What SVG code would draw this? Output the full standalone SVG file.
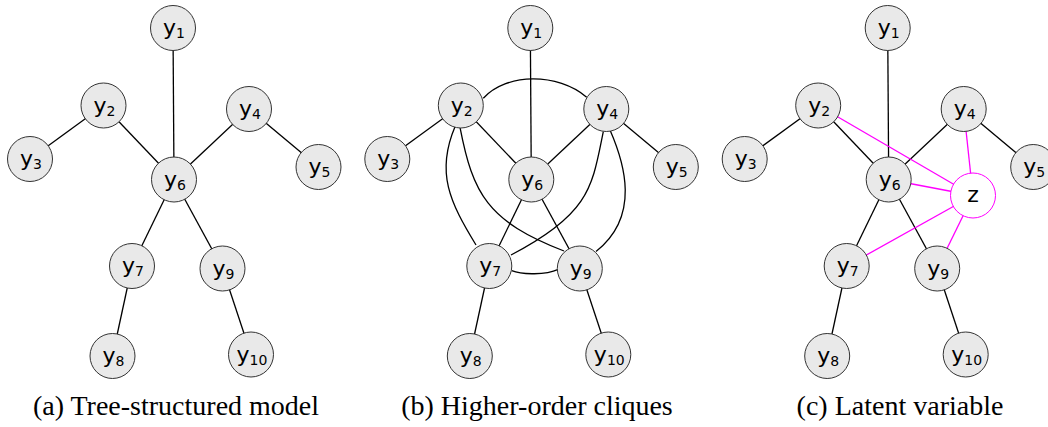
<svg xmlns="http://www.w3.org/2000/svg" width="1048" height="427" viewBox="0 0 1048 427">
  <style>
    .edge { stroke: #000; stroke-width: 1.3; fill: none; }
    .latent-edge { stroke: #ff00ff; stroke-width: 1.3; fill: none; }
    .node circle { fill: #e9e9e9; stroke: #333; stroke-width: 1; }
    .node.latent circle { fill: #fff; stroke: #ff00ff; }
    .lbl { font-family: "DejaVu Sans", sans-serif; font-size: 22px; fill: #000; text-anchor: middle; }
    .sub { font-size: 14px; }
    .caption { font-family: "Liberation Serif", "Times New Roman", serif; font-size: 28px; fill: #000; text-anchor: middle; }
  </style>

  <!-- connectors -->
  <g id="connectors">
    <!-- (a) tree -->
    <line class="edge" x1="173" y1="28" x2="174" y2="179.5"/>
    <line class="edge" x1="103.5" y1="105.5" x2="30" y2="159"/>
    <line class="edge" x1="103.5" y1="105.5" x2="174" y2="179.5"/>
    <line class="edge" x1="249" y1="109" x2="318.5" y2="167"/>
    <line class="edge" x1="249" y1="109" x2="174" y2="179.5"/>
    <line class="edge" x1="174" y1="179.5" x2="132" y2="266"/>
    <line class="edge" x1="174" y1="179.5" x2="222.5" y2="268.5"/>
    <line class="edge" x1="132" y1="266" x2="112.5" y2="356"/>
    <line class="edge" x1="222.5" y1="268.5" x2="251" y2="354.5"/>

    <!-- (b) tree edges -->
    <line class="edge" x1="530.3" y1="28" x2="531.3" y2="179.5"/>
    <line class="edge" x1="460.8" y1="105.5" x2="387.3" y2="159"/>
    <line class="edge" x1="460.8" y1="105.5" x2="531.3" y2="179.5"/>
    <line class="edge" x1="606.3" y1="109" x2="675.8" y2="167"/>
    <line class="edge" x1="606.3" y1="109" x2="531.3" y2="179.5"/>
    <line class="edge" x1="531.3" y1="179.5" x2="489.3" y2="266"/>
    <line class="edge" x1="531.3" y1="179.5" x2="579.8" y2="268.5"/>
    <line class="edge" x1="489.3" y1="266" x2="469.8" y2="356"/>
    <line class="edge" x1="579.8" y1="268.5" x2="608.3" y2="354.5"/>
    <!-- (b) clique arcs -->
    <path class="edge" d="M483.3,98.3 C506,72.7 558,72.7 586.7,97.3"/>
    <path class="edge" d="M455,126.7 C435.5,172.7 450,202.5 476,245"/>
    <path class="edge" d="M460,127.3 C472.9,193.7 487.2,221.3 564,251"/>
    <path class="edge" d="M610,130 C624.3,162.8 641,216 596,251.5"/>
    <path class="edge" d="M603.3,131.7 C592.3,185.5 590.9,213.7 511,255"/>
    <path class="edge" d="M511.7,270.7 C522,275 546,275 558.3,269.3"/>

    <!-- (c) tree edges -->
    <line class="edge" x1="887.7" y1="28" x2="888.7" y2="179.5"/>
    <line class="edge" x1="818.2" y1="105.5" x2="744.7" y2="159"/>
    <line class="edge" x1="818.2" y1="105.5" x2="888.7" y2="179.5"/>
    <line class="edge" x1="963.7" y1="109" x2="1033.2" y2="167"/>
    <line class="edge" x1="963.7" y1="109" x2="888.7" y2="179.5"/>
    <line class="edge" x1="888.7" y1="179.5" x2="846.7" y2="266"/>
    <line class="edge" x1="888.7" y1="179.5" x2="937.2" y2="268.5"/>
    <line class="edge" x1="846.7" y1="266" x2="827.2" y2="356"/>
    <line class="edge" x1="937.2" y1="268.5" x2="965.7" y2="354.5"/>
    <!-- (c) latent variable links -->
    <line class="latent-edge" x1="973" y1="195.5" x2="818.2" y2="105.5"/>
    <line class="latent-edge" x1="973" y1="195.5" x2="963.7" y2="109"/>
    <line class="latent-edge" x1="973" y1="195.5" x2="888.7" y2="179.5"/>
    <line class="latent-edge" x1="973" y1="195.5" x2="846.7" y2="266"/>
    <line class="latent-edge" x1="973" y1="195.5" x2="937.2" y2="268.5"/>
  </g>

  <!-- (a) nodes -->
  <g id="a-y1" class="node"><circle cx="173" cy="28" r="22.5"/><text class="lbl" x="174" y="35">y<tspan class="sub" dy="3">1</tspan></text></g>
  <g id="a-y2" class="node"><circle cx="103.5" cy="105.5" r="22.5"/><text class="lbl" x="104.5" y="112.5">y<tspan class="sub" dy="3">2</tspan></text></g>
  <g id="a-y3" class="node"><circle cx="30" cy="159" r="22.5"/><text class="lbl" x="31" y="166">y<tspan class="sub" dy="3">3</tspan></text></g>
  <g id="a-y4" class="node"><circle cx="249" cy="109" r="22.5"/><text class="lbl" x="250" y="116">y<tspan class="sub" dy="3">4</tspan></text></g>
  <g id="a-y5" class="node"><circle cx="318.5" cy="167" r="22.5"/><text class="lbl" x="319.5" y="174">y<tspan class="sub" dy="3">5</tspan></text></g>
  <g id="a-y6" class="node"><circle cx="174" cy="179.5" r="22.5"/><text class="lbl" x="175" y="186.5">y<tspan class="sub" dy="3">6</tspan></text></g>
  <g id="a-y7" class="node"><circle cx="132" cy="266" r="22.5"/><text class="lbl" x="133" y="273">y<tspan class="sub" dy="3">7</tspan></text></g>
  <g id="a-y8" class="node"><circle cx="112.5" cy="356" r="22.5"/><text class="lbl" x="113.5" y="363">y<tspan class="sub" dy="3">8</tspan></text></g>
  <g id="a-y9" class="node"><circle cx="222.5" cy="268.5" r="22.5"/><text class="lbl" x="223.5" y="275.5">y<tspan class="sub" dy="3">9</tspan></text></g>
  <g id="a-y10" class="node"><circle cx="251" cy="354.5" r="22.5"/><text class="lbl" x="252" y="361.5">y<tspan class="sub" dy="3">10</tspan></text></g>

  <!-- (b) nodes -->
  <g id="b-y1" class="node"><circle cx="530.3" cy="28" r="22.5"/><text class="lbl" x="531.3" y="35">y<tspan class="sub" dy="3">1</tspan></text></g>
  <g id="b-y2" class="node"><circle cx="460.8" cy="105.5" r="22.5"/><text class="lbl" x="461.8" y="112.5">y<tspan class="sub" dy="3">2</tspan></text></g>
  <g id="b-y3" class="node"><circle cx="387.3" cy="159" r="22.5"/><text class="lbl" x="388.3" y="166">y<tspan class="sub" dy="3">3</tspan></text></g>
  <g id="b-y4" class="node"><circle cx="606.3" cy="109" r="22.5"/><text class="lbl" x="607.3" y="116">y<tspan class="sub" dy="3">4</tspan></text></g>
  <g id="b-y5" class="node"><circle cx="675.8" cy="167" r="22.5"/><text class="lbl" x="676.8" y="174">y<tspan class="sub" dy="3">5</tspan></text></g>
  <g id="b-y6" class="node"><circle cx="531.3" cy="179.5" r="22.5"/><text class="lbl" x="532.3" y="186.5">y<tspan class="sub" dy="3">6</tspan></text></g>
  <g id="b-y7" class="node"><circle cx="489.3" cy="266" r="22.5"/><text class="lbl" x="490.3" y="273">y<tspan class="sub" dy="3">7</tspan></text></g>
  <g id="b-y8" class="node"><circle cx="469.8" cy="356" r="22.5"/><text class="lbl" x="470.8" y="363">y<tspan class="sub" dy="3">8</tspan></text></g>
  <g id="b-y9" class="node"><circle cx="579.8" cy="268.5" r="22.5"/><text class="lbl" x="580.8" y="275.5">y<tspan class="sub" dy="3">9</tspan></text></g>
  <g id="b-y10" class="node"><circle cx="608.3" cy="354.5" r="22.5"/><text class="lbl" x="609.3" y="361.5">y<tspan class="sub" dy="3">10</tspan></text></g>

  <!-- (c) nodes -->
  <g id="c-y1" class="node"><circle cx="887.7" cy="28" r="22.5"/><text class="lbl" x="888.7" y="35">y<tspan class="sub" dy="3">1</tspan></text></g>
  <g id="c-y2" class="node"><circle cx="818.2" cy="105.5" r="22.5"/><text class="lbl" x="819.2" y="112.5">y<tspan class="sub" dy="3">2</tspan></text></g>
  <g id="c-y3" class="node"><circle cx="744.7" cy="159" r="22.5"/><text class="lbl" x="745.7" y="166">y<tspan class="sub" dy="3">3</tspan></text></g>
  <g id="c-y4" class="node"><circle cx="963.7" cy="109" r="22.5"/><text class="lbl" x="964.7" y="116">y<tspan class="sub" dy="3">4</tspan></text></g>
  <g id="c-y5" class="node"><circle cx="1033.2" cy="167" r="22.5"/><text class="lbl" x="1034.2" y="174">y<tspan class="sub" dy="3">5</tspan></text></g>
  <g id="c-y6" class="node"><circle cx="888.7" cy="179.5" r="22.5"/><text class="lbl" x="889.7" y="186.5">y<tspan class="sub" dy="3">6</tspan></text></g>
  <g id="c-y7" class="node"><circle cx="846.7" cy="266" r="22.5"/><text class="lbl" x="847.7" y="273">y<tspan class="sub" dy="3">7</tspan></text></g>
  <g id="c-y8" class="node"><circle cx="827.2" cy="356" r="22.5"/><text class="lbl" x="828.2" y="363">y<tspan class="sub" dy="3">8</tspan></text></g>
  <g id="c-y9" class="node"><circle cx="937.2" cy="268.5" r="22.5"/><text class="lbl" x="938.2" y="275.5">y<tspan class="sub" dy="3">9</tspan></text></g>
  <g id="c-y10" class="node"><circle cx="965.7" cy="354.5" r="22.5"/><text class="lbl" x="966.7" y="361.5">y<tspan class="sub" dy="3">10</tspan></text></g>
  <g id="c-z" class="node latent"><circle cx="973" cy="195.5" r="22.5"/><text class="lbl" x="973" y="202">z</text></g>

  <!-- captions -->
  <text class="caption" x="176" y="415">(a) Tree-structured model</text>
  <text class="caption" x="537" y="415">(b) Higher-order cliques</text>
  <text class="caption" x="900" y="415">(c) Latent variable</text>
</svg>
